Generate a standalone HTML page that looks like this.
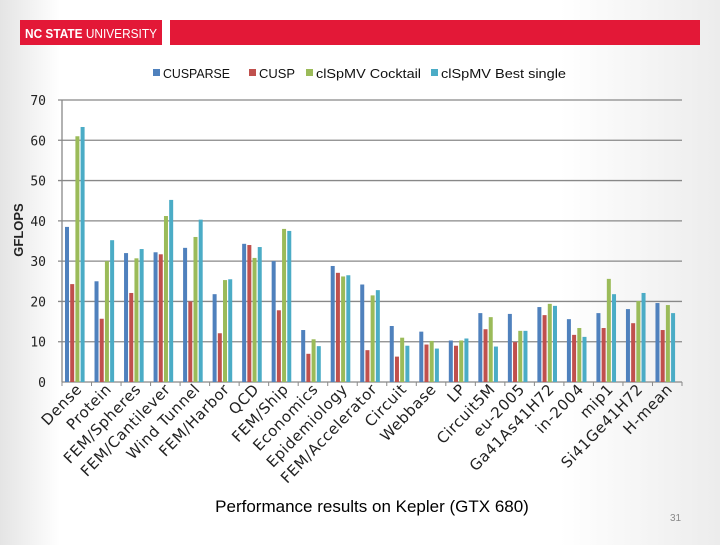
<!DOCTYPE html>
<html><head><meta charset="utf-8"><style>
body{margin:0;width:720px;height:540px;overflow:hidden;background:linear-gradient(90deg,#e4e4e4 0px,#fff 60px,#fff 560px,#ececec 720px);font-family:"Liberation Sans",sans-serif;}
</style></head><body>
<svg width="720" height="540" xmlns="http://www.w3.org/2000/svg">
<rect x="20" y="20" width="142" height="25" fill="#e31837"/>
<rect x="170" y="20" width="530" height="25" fill="#e31837"/>
<text x="25" y="38" font-size="13" font-weight="bold" fill="#fff" textLength="132" lengthAdjust="spacingAndGlyphs">NC STATE <tspan font-weight="normal">UNIVERSITY</tspan></text>
<g id="legend"></g>
<g id="grid"></g><g id="bars"></g><g id="xl"></g>
<text transform="translate(23,230) rotate(-90)" text-anchor="middle" font-size="13" font-weight="bold" fill="#222">GFLOPS</text>
<text x="372" y="512" text-anchor="middle" font-size="17" fill="#000">Performance results on Kepler (GTX 680)</text>
<text x="670" y="521" font-size="10" fill="#888">31</text>
</svg>
<script>
const categories=["Dense","Protein","FEM/Spheres","FEM/Cantilever","Wind Tunnel","FEM/Harbor","QCD","FEM/Ship","Economics","Epidemiology","FEM/Accelerator","Circuit","Webbase","LP","Circuit5M","eu-2005","Ga41As41H72","in-2004","mip1","Si41Ge41H72","H-mean"];
const seriesNames=["CUSPARSE","CUSP","clSpMV Cocktail","clSpMV Best single"];
const cusparse=[38.5,25,32,32.2,33.3,21.8,34.3,30,12.9,28.8,24.2,13.9,12.5,10.3,17.1,16.9,18.6,15.6,17.1,18.1,19.6];
const cusp=[24.3,15.7,22.1,31.7,20,12.1,34,17.8,7,27.1,7.9,6.3,9.3,9,13.1,9.9,16.6,11.7,13.4,14.6,12.9];
const cocktail=[61,30,30.7,41.2,36,25.3,30.8,38,10.6,26.2,21.5,11,10.2,10.3,16.1,12.7,19.4,13.4,25.6,20.1,19.1];
const bestSingle=[63.3,35.2,33,45.2,40.3,25.5,33.5,37.5,8.9,26.5,22.8,9,8.3,10.8,8.8,12.7,18.9,11.2,21.8,22.1,17.1];
const yTicks=[0,10,20,30,40,50,60,70];
const colors=["#4f81bd","#c0504d","#9bbb59","#4bacc6"];
const NS="http://www.w3.org/2000/svg";
const x0=62,x1=682,yb=382,yt=100,ymax=70;
const gw=(x1-x0)/categories.length;
const y=v=>yb-(v/ymax)*(yb-yt);
function mk(t,a,p){const e=document.createElementNS(NS,t);for(const k in a)e.setAttribute(k,a[k]);p.appendChild(e);return e;}
const grid=document.getElementById('grid');
yTicks.forEach(v=>{
 if(v>0){const l=mk('line',{x1:x0-4,x2:x1,y1:y(v),y2:y(v),stroke:'#888','stroke-width':1.3},grid);
 
 }
 const t=mk('text',{x:46,y:y(v)+5,'text-anchor':'end','font-size':13,fill:'#222','font-family':'DejaVu Sans Mono,monospace'},grid);t.textContent=v;
 
 
});
mk('line',{x1:x0,x2:x0,y1:yt,y2:yb,stroke:'#888','stroke-width':1.3},grid);
mk('line',{x1:x0,x2:x1,y1:yb,y2:yb,stroke:'#888','stroke-width':1.3},grid);
for(let i=0;i<=categories.length;i++){mk('line',{x1:x0+i*gw,x2:x0+i*gw,y1:yb,y2:yb+4,stroke:'#888'},grid);}
const data=[cusparse,cusp,cocktail,bestSingle];
const bars=document.getElementById('bars');
categories.forEach((c,i)=>{
 data.forEach((s,j)=>{
  const r=mk('rect',{x:x0+i*gw+3+j*5.2,y:y(s[i]),width:4,height:yb-y(s[i]),fill:colors[j]},bars);
  
  
 });
 const cx=x0+i*gw+gw/2+6;
 const t=mk('text',{transform:`translate(${cx},390) rotate(-46)`,'text-anchor':'end','font-size':15,'letter-spacing':'0.6',fill:'#222','font-family':'DejaVu Sans,sans-serif'},document.getElementById('xl'));
 t.textContent=c;
 
 
});
const lg=document.getElementById('legend');
const lx=[153,249,306,431];
const lw=[67,36,105,125];
seriesNames.forEach((n,j)=>{
 const r=mk('rect',{x:lx[j],y:69,width:7,height:7,fill:colors[j]},lg);
 
 
 const t=mk('text',{x:lx[j]+10,y:78,'font-size':13,fill:'#111',textLength:lw[j],lengthAdjust:'spacingAndGlyphs'},lg);t.textContent=n;
 
 
});
</script>
</body></html>
